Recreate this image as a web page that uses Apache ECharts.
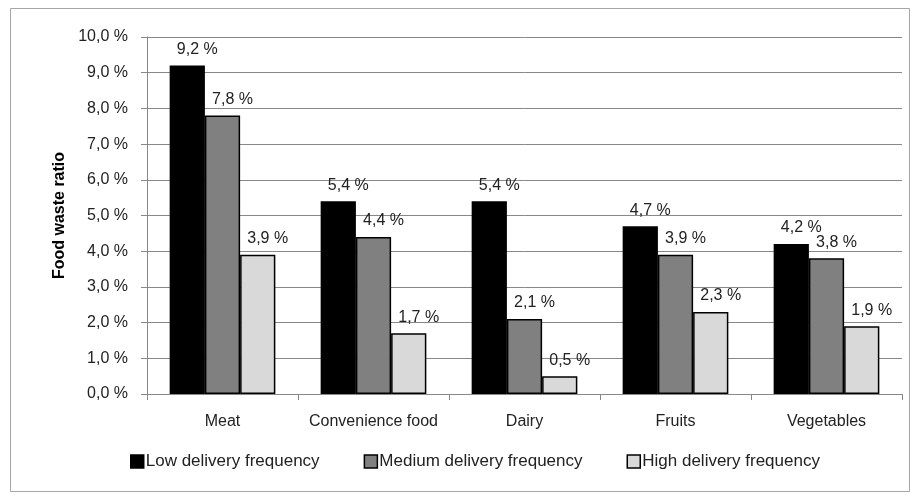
<!DOCTYPE html>
<html>
<head>
<meta charset="utf-8">
<script src="https://cdn.jsdelivr.net/npm/echarts@6/dist/echarts.min.js"></script>
<style>
  html, body { margin: 0; padding: 0; background: #fff; }
  #chart { width: 920px; height: 501px; }
</style>
</head>
<body>
<div id="chart"></div>
<script>
// categories and values (percent)
const categories = ["Meat", "Convenience food", "Dairy", "Fruits", "Vegetables"];
const lowFreq = [9.2, 5.4, 5.4, 4.7, 4.2];
const mediumFreq = [7.8, 4.4, 2.1, 3.9, 3.8];
const highFreq = [3.9, 1.7, 0.5, 2.3, 1.9];
const seriesNames = ["Low delivery frequency", "Medium delivery frequency", "High delivery frequency"];
const seriesColors = ["#000000", "#808080", "#d9d9d9"];

const font = "'Liberation Sans Narrow', 'Arial Narrow', 'Liberation Sans', sans-serif";
const pct = v => v.toFixed(1).replace(".", ",") + " %";

const chart = echarts.init(document.getElementById("chart"));

function makeSeries(name, data, color) {
  return {
    name: name,
    type: "bar",
    data: data,
    barGap: "0%",
    barCategoryGap: "30%",
    itemStyle: { color: color, borderColor: "#000", borderWidth: 1.5 },
    label: {
      show: true,
      position: "top",
      distance: 8,
      offset: [10, 0],
      color: "#222",
      fontFamily: font,
      fontSize: 16,
      formatter: p => pct(p.value)
    }
  };
}

chart.setOption({
  animation: false,
  textStyle: { fontFamily: font },
  graphic: [{
    type: "rect",
    shape: { x: 10.5, y: 8.5, width: 899, height: 483 },
    style: { fill: "none", stroke: "#a6a6a6", lineWidth: 1 }
  }],
  grid: { left: 147, right: 18, top: 37, bottom: 107 },
  legend: {
    bottom: 26,
    left: 125,
    itemWidth: 13,
    itemHeight: 13,
    itemGap: 44,
    icon: "rect",
    textStyle: { fontFamily: font, fontSize: 17, color: "#222", padding: [0, 0, 0, -3] },
    data: seriesNames.map((n, i) => ({
      name: n,
      itemStyle: { color: seriesColors[i], borderColor: "#000", borderWidth: 1.5 }
    }))
  },
  xAxis: {
    type: "category",
    data: categories,
    axisLine: { lineStyle: { color: "#888", width: 1 } },
    axisTick: { show: true, length: 6, lineStyle: { color: "#888" } },
    axisLabel: { color: "#222", fontFamily: font, fontSize: 16, margin: 20, interval: 0 }
  },
  yAxis: {
    type: "value",
    min: 0,
    max: 10,
    interval: 1,
    name: "Food waste ratio",
    nameLocation: "middle",
    nameGap: 78,
    nameTextStyle: { fontFamily: font, fontSize: 16, fontWeight: "bold", color: "#000" },
    axisLine: { show: true, lineStyle: { color: "#888" } },
    axisTick: { show: true, length: 6, lineStyle: { color: "#888" } },
    splitLine: { lineStyle: { color: "#888", width: 1 } },
    axisLabel: { color: "#222", fontFamily: font, fontSize: 16, margin: 19, formatter: v => pct(v) }
  },
  series: [
    makeSeries(seriesNames[0], lowFreq, seriesColors[0]),
    makeSeries(seriesNames[1], mediumFreq, seriesColors[1]),
    makeSeries(seriesNames[2], highFreq, seriesColors[2])
  ]
});
</script>
</body>
</html>
